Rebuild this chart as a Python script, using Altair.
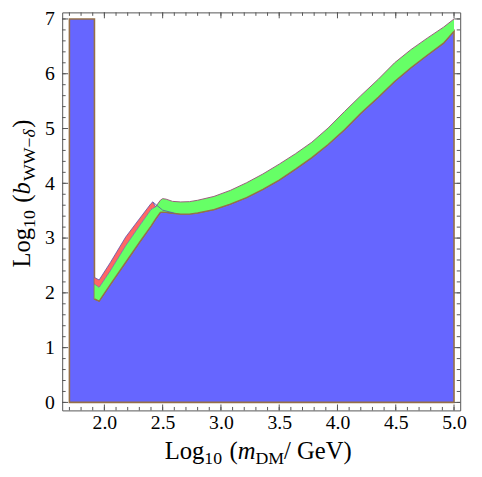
import altair as alt
import pandas as pd

# ---------------- data ----------------
rect_x = [1.70, 1.9149]
rect_top = [7.0, 7.0]

green_x = [1.915, 1.955, 2.05, 2.183, 2.30, 2.40, 2.44, 2.48, 2.50, 2.53, 2.585, 2.655, 2.73, 2.80,
           2.94, 3.08, 3.22, 3.36, 3.50, 3.64, 3.78, 3.92, 4.06, 4.20, 4.35, 4.49, 4.63, 4.77, 4.91, 5.00]
green_top = [2.16, 2.10, 2.40, 2.86, 3.22, 3.52, 3.57, 3.69, 3.72, 3.71, 3.67, 3.66, 3.665, 3.69,
             3.76, 3.87, 4.01, 4.17, 4.35, 4.54, 4.75, 5.01, 5.31, 5.60, 5.90, 6.20, 6.44, 6.65, 6.85, 7.00]
green_bottom = [1.89, 1.85, 2.15, 2.56, 2.92, 3.22, 3.35, 3.47, 3.475, 3.47, 3.455, 3.44, 3.44, 3.46,
                3.52, 3.62, 3.74, 3.89, 4.06, 4.26, 4.47, 4.71, 4.98, 5.28, 5.57, 5.86, 6.11, 6.34, 6.56, 6.78]

red_x = [1.915, 1.955, 2.05, 2.183, 2.30, 2.40, 2.415, 2.44]
red_top = [2.28, 2.235, 2.55, 3.02, 3.35, 3.63, 3.66, 3.57]
red_bottom = [2.16, 2.10, 2.40, 2.86, 3.22, 3.52, 3.54, 3.57]

edge_x = [2.415, 2.50, 2.60]
edge_y = [3.66, 3.51, 3.455]

x_major = [2.0, 2.5, 3.0, 3.5, 4.0, 4.5, 5.0]
x_minor = [round(1.7 + 0.1 * i, 1) for i in range(34)]
y_major = [0, 1, 2, 3, 4, 5, 6, 7]
y_minor = [round(0.2 * i, 1) for i in range(36)]

# ---------------- layout ----------------
W, H = 404, 404
XDOM = [1.638, 5.053]
YDOM = [-0.146, 7.12]
FONT = "Liberation Serif"
BLUE, GREEN, RED = "#6666ff", "#66ff66", "#ff6666"
BROWN, MAROON, VIOLET = "#957048", "#9a5c7c", "#5a50aa"
FRAME = "#555555"

xs = alt.Scale(domain=XDOM, nice=False, zero=False)
ys = alt.Scale(domain=YDOM, nice=False, zero=False)

blue_df = pd.DataFrame({"x": rect_x + green_x, "y": rect_top + green_bottom})
blue_df["b"] = 0.0
green_df = pd.DataFrame({"x": green_x, "top": green_top, "bot": green_bottom})
red_df = pd.DataFrame({"x": red_x, "top": red_top, "bot": red_bottom})
edge_df = pd.DataFrame({"x": edge_x, "y": edge_y})

X = alt.X("x:Q", scale=xs, axis=alt.Axis(values=x_major, format=".1f", title="", labelPadding=2))
Y = alt.Y("y:Q", scale=ys, axis=alt.Axis(values=y_major, format="d", title="", labelPadding=8))

blue = alt.Chart(blue_df).mark_area(fill=BLUE, stroke=BROWN, strokeWidth=1.6, opacity=1, fillOpacity=1).encode(
    x=X, y=Y, y2="b:Q")

red = alt.Chart(red_df).mark_area(color=RED, opacity=1).encode(
    x=alt.X("x:Q", scale=xs), y=alt.Y("top:Q", scale=ys), y2="bot:Q")
green = alt.Chart(green_df).mark_area(color=GREEN, opacity=1).encode(
    x=alt.X("x:Q", scale=xs), y=alt.Y("top:Q", scale=ys), y2="bot:Q")

green_top_line = alt.Chart(green_df[green_df.x >= 2.44]).mark_line(color=MAROON, strokeWidth=1.0).encode(
    x=alt.X("x:Q", scale=xs), y=alt.Y("top:Q", scale=ys))
green_bot_line = alt.Chart(green_df).mark_line(color=BROWN, strokeWidth=1.2).encode(
    x=alt.X("x:Q", scale=xs), y=alt.Y("bot:Q", scale=ys))
red_top_line = alt.Chart(red_df).mark_line(color=VIOLET, strokeWidth=0.8).encode(
    x=alt.X("x:Q", scale=xs), y=alt.Y("top:Q", scale=ys))
red_bot_line = alt.Chart(red_df).mark_line(color=VIOLET, strokeWidth=0.6).encode(
    x=alt.X("x:Q", scale=xs), y=alt.Y("bot:Q", scale=ys))
edge_line = alt.Chart(edge_df).mark_line(color=VIOLET, strokeWidth=0.8).encode(
    x=alt.X("x:Q", scale=xs), y=alt.Y("y:Q", scale=ys))


def xticks(vals, length):
    d = pd.DataFrame({"v": vals})
    bot = alt.Chart(d).mark_rule(color=FRAME, strokeWidth=1).encode(
        x=alt.X("v:Q", scale=xs), y=alt.value(H), y2=alt.value(H - length))
    top = alt.Chart(d).mark_rule(color=FRAME, strokeWidth=1).encode(
        x=alt.X("v:Q", scale=xs), y=alt.value(0), y2=alt.value(length))
    return [bot, top]


def yticks(vals, length):
    d = pd.DataFrame({"v": vals})
    left = alt.Chart(d).mark_rule(color=FRAME, strokeWidth=1).encode(
        y=alt.Y("v:Q", scale=ys), x=alt.value(0), x2=alt.value(length))
    right = alt.Chart(d).mark_rule(color=FRAME, strokeWidth=1).encode(
        y=alt.Y("v:Q", scale=ys), x=alt.value(W), x2=alt.value(W - length))
    return [left, right]


ticks = xticks(x_minor, 3.5) + xticks(x_major, 6) + yticks(y_minor, 3.5) + yticks(y_major, 6)


def seg(text, px, py, size, italic=False, angle=0):
    kw = dict(text=text, font=FONT, fontSize=size, align="left", baseline="alphabetic", color="black")
    if italic:
        kw["fontStyle"] = "italic"
    if angle:
        kw["angle"] = angle
    return alt.Chart(alt.Data(values=[{"a": 1}])).mark_text(**kw).encode(
        x=alt.value(px), y=alt.value(py))


F, S, DROP = 25, 18, 5
# x title  (text, size, italic, drop, advance in em incl. gaps)
xt = []
x0, yb = 104, 453
parts = [("Log", F, False, 0, 1.611), ("10", S, False, DROP, 1.0 + 0.3 * F / S), ("(", F, False, 0, 0.333),
         ("m", F, True, 0, 0.722), ("DM", S, False, DROP, 1.611), ("/", F, False, 0, 0.278 + 0.25),
         ("GeV)", F, False, 0, 2.221)]
cx = x0
for t, sz, it, dy, wem in parts:
    xt.append(seg(t, cx, yb + dy, sz, it))
    cx += wem * sz

# y title (rotated)
yt = []
xb, y0 = -33, 259
parts = [("Log", F, False, 0, 1.611), ("10", S, False, DROP, 1.0 + 0.3 * F / S), ("(", F, False, 0, 0.333),
         ("b", F, True, 0, 0.55), ("WW\u2212", S, False, DROP, 2.452), ("\u03b4", S, True, DROP, 0.55),
         (")", F, False, 0, 0.333)]
cy = y0
for t, sz, it, dx, wem in parts:
    yt.append(seg(t, xb + dx, cy, sz, it, angle=270))
    cy -= wem * sz

chart = alt.layer(
    blue, red, green, green_top_line, green_bot_line, red_top_line, red_bot_line, edge_line,
    *ticks, *xt, *yt
).properties(
    width=W, height=H,
    autosize=alt.AutoSizeParams(type="none"),
    padding={"left": 55, "top": 1, "right": 14, "bottom": 55},
).configure_view(
    stroke=FRAME, strokeWidth=1
).configure_axis(
    ticks=False, domain=False, grid=False,
    labelFont=FONT, labelFontSize=20, labelColor="black"
)

chart.save("out.html", embed_options={"renderer": "svg", "actions": False})
